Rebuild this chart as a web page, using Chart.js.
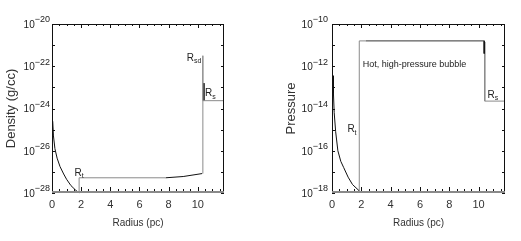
<!DOCTYPE html>
<html>
<head>
<meta charset="utf-8">
<script src="https://cdn.jsdelivr.net/npm/chart.js@4"></script>
<style>
body { margin: 0; background: #fff; }
#wrap { position: relative; width: 521px; height: 241px; }
#density-chart { position: absolute; left: 0; top: 0; }
#pressure-chart { position: absolute; left: 260px; top: 0; }
</style>
</head>
<body>
<div id="wrap">
<canvas id="density-chart" width="260" height="241"></canvas>
<canvas id="pressure-chart" width="261" height="241"></canvas>
</div>
<script>
// radius in pc, values given as log10
var densInnerR = [0.05, 0.1, 0.2, 0.35, 0.55, 0.8, 1.0, 1.3, 1.6, 1.86];
var densInnerLog = [-24.6, -25.3, -25.9, -26.35, -26.75, -27.1, -27.35, -27.65, -27.85, -28.0];
var densBubbleR = [1.86, 1.86, 7.8];
var densBubbleLog = [-28.0, -27.28, -27.28];
var densShellR = [7.8, 9.0, 10.3];
var densShellLog = [-27.28, -27.22, -27.08];
var densOuterR = [10.35, 10.35, 10.35, 11.8];
var densOuterLog = [-27.08, -21.5, -23.63, -23.63];
var densEdgeR = [10.42, 10.42];
var densEdgeLog = [-22.8, -23.63];

var presInnerR = [0.07, 0.1, 0.15, 0.25, 0.4, 0.6, 0.8, 1.1, 1.4, 1.86];
var presInnerLog = [-12.45, -13.3, -14.2, -15.1, -16.0, -16.5, -16.8, -17.25, -17.6, -17.9];
var presBubbleR = [1.86, 1.86, 2.3];
var presBubbleLog = [-18.0, -10.8, -10.8];
var presTopR = [2.3, 10.4];
var presTopLog = [-10.8, -10.8];
var presEdgeR = [10.38, 10.38];
var presEdgeLog = [-10.8, -11.4];
var presOuterR = [10.42, 10.42, 11.8];
var presOuterLog = [-10.85, -13.65, -13.65];

var radiusTicks = [0, 2, 4, 6, 8, 10];
var densityTicks = [-28, -26, -24, -22, -20];
var pressureTicks = [-18, -16, -14, -12, -10];

var densityNotes = [
    { text: "R", sub: "t", r: 1.55, v: -27.05 },
    { text: "R", sub: "sd", r: 9.25, v: -21.6 },
    { text: "R", sub: "s", r: 10.5, v: -23.3 },
];
var pressureNotes = [
    { text: "R", sub: "t", r: 1.05, v: -15.0 },
    { text: "R", sub: "s", r: 10.6, v: -13.35 },
    { text: "Hot, high-pressure bubble", sub: "", r: 2.1, v: -11.9, size: 9 },
];

var GRAY = "#8a8a8a";
var INK = "#111";
var FONT = "'Liberation Sans', Arial, sans-serif";

Chart.defaults.color = "#333";
Chart.defaults.font.family = FONT;

function seg(rs, logs, color) {
    return {
        data: rs.map(function (r, i) { return { x: r, y: Math.pow(10, logs[i]) }; }),
        showLine: true,
        borderColor: color,
        borderWidth: 1,
        pointRadius: 0,
        tension: 0,
        clip: false,
    };
}

var framePlugin = {
    id: "frame",
    afterDraw: function (chart) {
        var o = chart.options.plugins.frame;
        var ctx = chart.ctx, a = chart.chartArea;
        var xs = chart.scales.x, ys = chart.scales.y;
        ctx.save();
        ctx.strokeStyle = INK;
        ctx.lineWidth = 1;
        ctx.beginPath();
        ctx.moveTo(a.left + 0.5, a.bottom);
        ctx.lineTo(a.left + 0.5, a.top + 0.5);
        ctx.lineTo(a.right - 0.5, a.top + 0.5);
        ctx.lineTo(a.right - 0.5, a.bottom);
        ctx.stroke();
        ctx.strokeStyle = GRAY;
        ctx.lineWidth = 2;
        ctx.beginPath();
        ctx.moveTo(a.left, a.bottom - 1);
        ctx.lineTo(a.right, a.bottom - 1);
        ctx.stroke();

        // inward ticks
        ctx.strokeStyle = INK;
        ctx.lineWidth = 1;
        ctx.beginPath();
        for (var r = 0; r <= 11.5; r += 0.5) {
            var px = Math.round(xs.getPixelForValue(r)) + 0.5;
            var len = r % 2 === 0 ? 4 : 2;
            ctx.moveTo(px, a.top);
            ctx.lineTo(px, a.top + len);
            ctx.moveTo(px, a.bottom - 2);
            ctx.lineTo(px, a.bottom - 2 - len);
        }
        var t = o.ticks;
        for (var e = t[0]; e <= t[t.length - 1]; e++) {
            var py = Math.round(ys.getPixelForValue(Math.pow(10, e))) + 0.5;
            ctx.moveTo(a.left, py);
            ctx.lineTo(a.left + 3, py);
            ctx.moveTo(a.right, py);
            ctx.lineTo(a.right - 3, py);
        }
        ctx.stroke();

        // y tick labels with exponents
        ctx.fillStyle = "#222";
        ctx.textBaseline = "middle";
        ctx.textAlign = "left";
        t.forEach(function (e) {
            var py = ys.getPixelForValue(Math.pow(10, e));
            var exp = "\u2212" + Math.abs(e);
            ctx.font = "10px " + FONT;
            var wb = ctx.measureText("10").width;
            ctx.font = "9px " + FONT;
            var we = ctx.measureText(exp).width;
            var x0 = a.left - o.gap - wb - we;
            ctx.font = "10px " + FONT;
            ctx.fillText("10", x0, py + 1);
            ctx.font = "9px " + FONT;
            ctx.fillText(exp, x0 + wb, py - 4);
        });

        // annotations
        o.notes.forEach(function (n) {
            var px = xs.getPixelForValue(n.r);
            var py = ys.getPixelForValue(Math.pow(10, n.v));
            ctx.font = (n.size || 10) + "px " + FONT;
            ctx.fillText(n.text, px, py);
            if (n.sub) {
                var w = ctx.measureText(n.text).width;
                ctx.font = "7px " + FONT;
                ctx.fillText(n.sub, px + w, py + 3);
            }
        });
        ctx.restore();
    },
};

function makeChart(id, datasets, yTicks, yTitle, notes, pad, gap) {
    return new Chart(document.getElementById(id), {
        type: "scatter",
        data: { datasets: datasets },
        plugins: [framePlugin],
        options: {
            responsive: false,
            animation: false,
            devicePixelRatio: 1,
            layout: { padding: pad },
            scales: {
                x: {
                    type: "linear",
                    min: 0,
                    max: 11.8,
                    afterBuildTicks: function (scale) {
                        scale.ticks = radiusTicks.map(function (v) { return { value: v }; });
                    },
                    afterFit: function (scale) { scale.height = 40; },
                    grid: { display: false, drawTicks: false },
                    border: { display: false },
                    ticks: { font: { size: 11 }, padding: 5, maxRotation: 0 },
                    title: { display: true, text: "Radius (pc)", font: { size: 10 }, padding: 4 },
                },
                y: {
                    type: "logarithmic",
                    min: Math.pow(10, yTicks[0]),
                    max: Math.pow(10, yTicks[yTicks.length - 1]),
                    afterBuildTicks: function (scale) {
                        scale.ticks = yTicks.map(function (e) { return { value: Math.pow(10, e) }; });
                    },
                    afterFit: function (scale) { scale.width = 52; },
                    grid: { display: false },
                    border: { display: false },
                    ticks: { display: false },
                    title: { display: true, text: yTitle, font: { size: 13 }, padding: 4 },
                },
            },
            plugins: {
                legend: { display: false },
                tooltip: { enabled: false },
                frame: { ticks: yTicks, notes: notes, gap: gap },
            },
        },
    });
}

makeChart("density-chart", [
    seg(densInnerR, densInnerLog, INK),
    seg(densBubbleR, densBubbleLog, GRAY),
    seg(densShellR, densShellLog, INK),
    seg(densOuterR, densOuterLog, GRAY),
    seg(densEdgeR, densEdgeLog, INK),
], densityTicks, "Density (g/cc)", densityNotes, { top: 24, right: 36, bottom: 8, left: 0 }, 2);

makeChart("pressure-chart", [
    seg(presInnerR, presInnerLog, INK),
    seg(presBubbleR, presBubbleLog, GRAY),
    seg(presTopR, presTopLog, "#333"),
    seg(presEdgeR, presEdgeLog, INK),
    seg(presOuterR, presOuterLog, GRAY),
], pressureTicks, "Pressure", pressureNotes, { top: 24, right: 16, bottom: 8, left: 20 }, 4);
</script>
</body>
</html>
